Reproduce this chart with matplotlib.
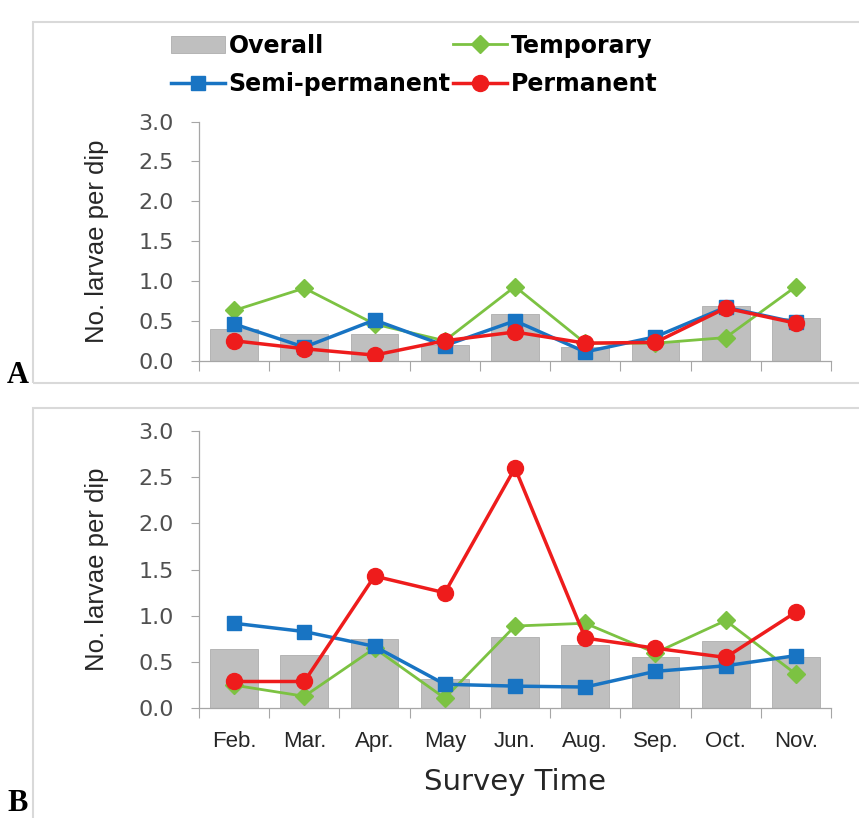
import matplotlib
matplotlib.use("Agg")
import matplotlib.pyplot as plt
from matplotlib.patches import Rectangle
from matplotlib.lines import Line2D
import numpy as np

# ---------------- data ----------------
months = ["Feb.", "Mar.", "Apr.", "May", "Jun.", "Aug.", "Sep.", "Oct.", "Nov."]

overall_A = [0.40, 0.34, 0.33, 0.20, 0.58, 0.17, 0.24, 0.68, 0.53]
temporary_A = [0.63, 0.91, 0.46, 0.25, 0.93, 0.22, 0.22, 0.29, 0.93]
semiperm_A = [0.46, 0.17, 0.51, 0.19, 0.50, 0.11, 0.30, 0.67, 0.48]
permanent_A = [0.25, 0.15, 0.07, 0.25, 0.36, 0.22, 0.23, 0.66, 0.47]

overall_B = [0.64, 0.58, 0.75, 0.32, 0.77, 0.69, 0.55, 0.73, 0.56]
temporary_B = [0.25, 0.13, 0.65, 0.11, 0.89, 0.92, 0.60, 0.95, 0.37]
semiperm_B = [0.92, 0.83, 0.67, 0.26, 0.24, 0.23, 0.40, 0.46, 0.57]
permanent_B = [0.29, 0.29, 1.43, 1.25, 2.60, 0.76, 0.65, 0.55, 1.04]

yticks = [0.0, 0.5, 1.0, 1.5, 2.0, 2.5, 3.0]
legend_labels = ["Overall", "Temporary", "Semi-permanent", "Permanent"]

# ---------------- style ----------------
C_BAR = "#bfbfbf"
C_BAR_EDGE = "#adadad"
C_GREEN = "#7cc242"
C_BLUE = "#1874c3"
C_RED = "#ee1c1c"
C_AXIS = "#a6a6a6"
C_TICKLBL = "#505050"

W, H = 859, 818
fig = plt.figure(figsize=(W / 100, H / 100), dpi=100)


def fx(px):
    return px / W


def fy(py):
    return 1 - py / H


# panel frames
for (x0, y0, x1, y1) in [(33, 22, 880, 383), (33, 408, 880, 840)]:
    fig.patches.append(Rectangle((fx(x0), fy(y1)), fx(x1 - x0), (y1 - y0) / H,
                                 transform=fig.transFigure, fill=False,
                                 edgecolor="#d9d9d9", linewidth=1.5, zorder=0))

ax_left, ax_right = 199, 831
axA = fig.add_axes([fx(ax_left), fy(360.7), fx(ax_right - ax_left), (360.7 - 121.5) / H])
axB = fig.add_axes([fx(ax_left), fy(708.3), fx(ax_right - ax_left), (708.3 - 431.0) / H])

x = np.arange(len(months))


def draw(ax, overall, temp, semi, perm, show_xlabels, label_y):
    ax.bar(x, overall, width=0.68, color=C_BAR, edgecolor=C_BAR_EDGE, linewidth=0.6, zorder=1)
    ax.plot(x, temp, color=C_GREEN, lw=2.0, marker="D", ms=9, zorder=2)
    ax.plot(x, semi, color=C_BLUE, lw=2.5, marker="s", ms=10.5, zorder=3)
    ax.plot(x, perm, color=C_RED, lw=2.5, marker="o", ms=11.5, zorder=4)
    ax.set_xlim(-0.5, len(months) - 0.5)
    ax.set_ylim(0, 3.0)
    ax.set_yticks(yticks)
    ax.set_yticklabels([f"{v:.1f}" for v in yticks], fontsize=16, color=C_TICKLBL,
                       family="DejaVu Sans")
    ax.set_xticks(np.arange(-0.5, len(months), 1.0))
    ax.set_xticklabels([])
    ax.tick_params(axis="y", length=6, width=0.8, color=C_AXIS, pad=12, direction="out")
    ax.tick_params(axis="x", length=7, width=0.8, color=C_AXIS, direction="out")
    if show_xlabels:
        ax.set_xticks(x, minor=True)
        ax.set_xticklabels(months, minor=True, fontsize=16, color="#262626",
                           family="Liberation Sans")
        ax.tick_params(axis="x", which="minor", length=0, pad=16)
    for s in ["top", "right"]:
        ax.spines[s].set_visible(False)
    for s in ["left", "bottom"]:
        ax.spines[s].set_color(C_AXIS)
        ax.spines[s].set_linewidth(0.9)
    ax.set_ylabel("No. larvae per dip", color="#262626", fontsize=18.5,
                  family="Liberation Sans")
    ax.yaxis.set_label_coords((109 - ax_left) / (ax_right - ax_left), label_y)
    ax.set_facecolor("none")


draw(axA, overall_A, temporary_A, semiperm_A, permanent_A, False, 0.5)
draw(axB, overall_B, temporary_B, semiperm_B, permanent_B, True, 0.5)

axB.set_xlabel("Survey Time", fontsize=21, family="DejaVu Sans", color="#262626", labelpad=12)

# legend (top of panel A)
handles = [
    Rectangle((0, 0), 1, 1, facecolor=C_BAR, edgecolor=C_BAR_EDGE, linewidth=0.6),
    Line2D([], [], color=C_BLUE, lw=2.5, marker="s", ms=10.5),
    Line2D([], [], color=C_GREEN, lw=2.0, marker="D", ms=9),
    Line2D([], [], color=C_RED, lw=2.5, marker="o", ms=11.5),
]
labels = [legend_labels[0], legend_labels[2], legend_labels[1], legend_labels[3]]
fig.legend(handles, labels, ncol=2, loc="upper left",
           bbox_to_anchor=(fx(166), fy(29)), frameon=False,
           prop={"family": "DejaVu Sans", "weight": "bold", "size": 17},
           handlelength=2.3, handletextpad=0.15, columnspacing=0.1,
           labelspacing=0.60, borderpad=0.2, borderaxespad=0)

# panel letters
fig.text(fx(7), fy(383), "A", fontsize=22, fontweight="bold", family="Liberation Serif",
         va="baseline", ha="left")
fig.text(fx(7), fy(811), "B", fontsize=22, fontweight="bold", family="Liberation Serif",
         va="baseline", ha="left")

fig.savefig("out.png", dpi=100)
